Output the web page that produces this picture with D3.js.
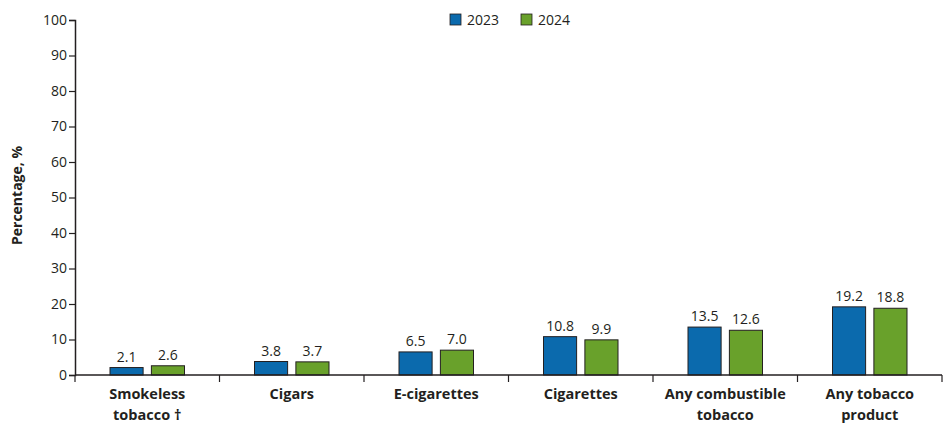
<!DOCTYPE html>
<html>
<head>
<meta charset="utf-8">
<script src="https://cdn.jsdelivr.net/npm/d3@7"></script>
<style>
  body { margin: 0; background: #fff; }
  svg text { font-family: "Open Sans", "Noto Sans", sans-serif; fill: #231f20; }
</style>
</head>
<body>
<div id="chart"></div>
<script>
// data
const categories = [["Smokeless", "tobacco †"], ["Cigars"], ["E-cigarettes"], ["Cigarettes"],
                    ["Any combustible", "tobacco"], ["Any tobacco", "product"]];
const years = ["2023", "2024"];
const values2023 = [2.1, 3.8, 6.5, 10.8, 13.5, 19.2];
const values2024 = [2.6, 3.7, 7.0, 9.9, 12.6, 18.8];
const yTicks = [0, 10, 20, 30, 40, 50, 60, 70, 80, 90, 100];

const colors = { "2023": "#0b6aad", "2024": "#69a12b" };

const W = 949, H = 434;
const margin = { top: 20, right: 7, bottom: 59, left: 75 };
const width = W - margin.left - margin.right,
      height = H - margin.top - margin.bottom;

const svg = d3.select("#chart").append("svg")
  .attr("width", W).attr("height", H)
  .append("g")
  .attr("transform", `translate(${margin.left},${margin.top})`);

const keys = categories.map((c, i) => i);
const x = d3.scaleBand().domain(keys).range([0, width]).padding(0);
const x1 = d3.scaleBand().domain(years).range([35, x.bandwidth() - 35]).paddingInner(0.2);
const y = d3.scaleLinear().domain([0, 100]).range([height, 0]);

// y axis
const gY = svg.append("g")
  .call(d3.axisLeft(y).tickValues(yTicks).tickSize(6).tickPadding(2));
gY.select(".domain").attr("stroke", "#231f20").attr("stroke-width", 1.5);
gY.selectAll(".tick line").attr("stroke", "#231f20").attr("stroke-width", 1.2);
gY.selectAll("text").style("font-size", "14px").style("font-family", "'Open Sans', sans-serif").attr("fill", "#231f20");

svg.append("text")
  .attr("transform", `translate(${-53},${height / 2 - 2}) rotate(-90)`)
  .attr("text-anchor", "middle")
  .style("font-size", "14px").style("font-weight", "bold")
  .text("Percentage, %");

// bars
const data = keys.map(i => ({ i, vals: [{ year: "2023", v: values2023[i] }, { year: "2024", v: values2024[i] }] }));

const groups = svg.selectAll("g.grp").data(data).enter().append("g")
  .attr("class", "grp")
  .attr("transform", d => `translate(${x(d.i)},0)`);

groups.selectAll("rect").data(d => d.vals).enter().append("rect")
  .attr("x", d => x1(d.year))
  .attr("y", d => y(d.v))
  .attr("width", x1.bandwidth())
  .attr("height", d => height - y(d.v))
  .attr("fill", d => colors[d.year])
  .attr("stroke", "#231f20")
  .attr("stroke-width", 1);

groups.selectAll("text.val").data(d => d.vals).enter().append("text")
  .attr("class", "val")
  .attr("x", d => x1(d.year) + x1.bandwidth() / 2)
  .attr("y", d => y(d.v) - 6)
  .attr("text-anchor", "middle")
  .style("font-size", "14px")
  .text(d => d.v.toFixed(1));

// x axis
const gX = svg.append("g").attr("transform", `translate(0,${height})`);
gX.append("line").attr("x1", 0).attr("x2", width).attr("stroke", "#231f20").attr("stroke-width", 1.5);
gX.selectAll("line.tk").data(d3.range(categories.length + 1)).enter().append("line")
  .attr("class", "tk")
  .attr("x1", d => d === categories.length ? width : x(d))
  .attr("x2", d => d === categories.length ? width : x(d))
  .attr("y1", 0).attr("y2", 7)
  .attr("stroke", "#231f20").attr("stroke-width", 1.2);

const lbl = gX.selectAll("text.cat").data(keys).enter().append("text")
  .attr("class", "cat")
  .attr("x", d => x(d) + x.bandwidth() / 2)
  .attr("y", 24)
  .attr("text-anchor", "middle")
  .style("font-size", "14.5px").style("font-weight", "bold");
lbl.selectAll("tspan").data(d => categories[d]).enter().append("tspan")
  .attr("x", function() { return d3.select(this.parentNode).attr("x"); })
  .attr("dy", (d, j) => j === 0 ? 0 : 21)
  .text(d => d);

// legend
const legend = svg.append("g").attr("transform", `translate(${450 - margin.left},${14 - margin.top})`);
years.forEach((yr, j) => {
  const g = legend.append("g").attr("transform", `translate(${j * 71},0)`);
  g.append("rect").attr("width", 11).attr("height", 11)
    .attr("fill", colors[yr]).attr("stroke", "#231f20").attr("stroke-width", 0.8);
  g.append("text").attr("x", 17).attr("y", 11).style("font-size", "14px").text(yr);
});
</script>
</body>
</html>
